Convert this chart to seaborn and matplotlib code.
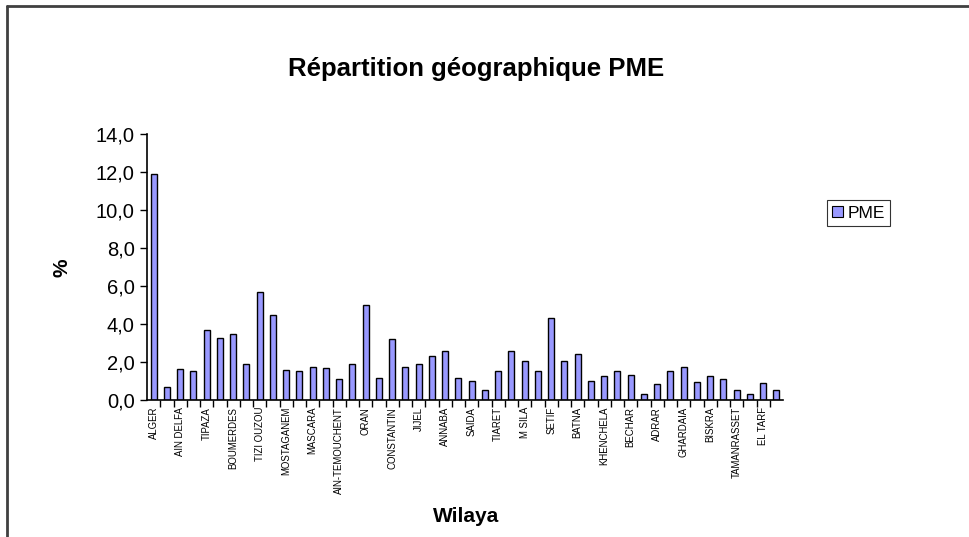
import matplotlib
matplotlib.use("Agg")
import matplotlib.pyplot as plt
from matplotlib.lines import Line2D
from matplotlib.patches import Patch
from matplotlib.ticker import FixedLocator, FuncFormatter
import seaborn as sns
import pandas as pd
import numpy as np

wilayas = ["ALGER", "BLIDA", "AIN DELFA", "MEDEA", "TIPAZA", "BOUIRA", "BOUMERDES", "CHLEF",
           "TIZI OUZOU", "BEJAIA", "MOSTAGANEM", "RELIZANE", "MASCARA", "SIDI BEL ABBES",
           "AIN-TEMOUCHENT", "TLEMCEN", "ORAN", "MILA", "CONSTANTIN", "SKIKDA", "JIJEL", "GUELMA",
           "ANNABA", "SOUK AHRAS", "SAIDA", "TISSEMSILT", "TIARET", "DJELFA", "M SILA",
           "BORDJ BOU ARRERIDJ", "SETIF", "OUM EL BOUAGHI", "BATNA", "TEBESSA", "KHENCHELA",
           "NAAMA", "BECHAR", "TINDOUF", "ADRAR", "LAGHOUAT", "GHARDAIA", "OUARGLA", "BISKRA",
           "EL OUED", "TAMANRASSET", "ILLIZI", "EL TARF", "EL BAYADH"]
pme = [11.9, 0.67, 1.64, 1.53, 3.70, 3.26, 3.45, 1.88, 5.69, 4.47, 1.58, 1.53, 1.73, 1.67,
       1.11, 1.92, 5.02, 1.16, 3.20, 1.73, 1.92, 2.29, 2.59, 1.16, 1.02, 0.51, 1.53, 2.59,
       2.04, 1.53, 4.31, 2.04, 2.43, 1.02, 1.27, 1.53, 1.32, 0.30, 0.86, 1.53, 1.73, 0.97,
       1.27, 1.11, 0.55, 0.30, 0.92, 0.55]
yticks = [0, 2, 4, 6, 8, 10, 12, 14]

df = pd.DataFrame({"Wilaya": wilayas, "PME": pme})

sns.set_theme(style="white")
plt.rcParams["font.family"] = ["Liberation Sans", "DejaVu Sans"]
plt.rcParams["text.color"] = "black"
plt.rcParams["xtick.labelcolor"] = "black"
plt.rcParams["ytick.labelcolor"] = "black"

W, H = 969, 537
fig = plt.figure(figsize=(W / 100, H / 100), dpi=100)
ax = fig.add_axes([147 / W, 1 - 400 / H, (783 - 147) / W, (400 - 134) / H])

sns.barplot(data=df, x="Wilaya", y="PME", color="#9999FF", edgecolor="black",
            linewidth=1.0, width=0.45, saturation=1, ax=ax)

ax.set_xlim(-0.5, len(wilayas) - 0.5)
ax.set_ylim(0, 14)
ax.yaxis.set_major_locator(FixedLocator(yticks))
ax.yaxis.set_major_formatter(FuncFormatter(lambda v, p: f"{v:.1f}".replace(".", ",")))
ax.tick_params(axis="y", which="major", direction="out", length=5, width=1,
               color="black", labelsize=14.5, pad=4, left=True, labelcolor="black")

idx = np.arange(0, len(wilayas), 2)
ax.set_xticks(idx)
ax.set_xticklabels([wilayas[i] for i in idx], rotation=90, fontsize=6.9, color="black")
ax.tick_params(axis="x", which="major", length=0, pad=5)
ax.xaxis.set_minor_locator(FixedLocator(np.arange(0.5, len(wilayas) - 0.5, 1)))
ax.tick_params(axis="x", which="minor", direction="out", length=5, width=1,
               color="black", bottom=True)

for s in ["top", "right"]:
    ax.spines[s].set_visible(False)
for s in ["left", "bottom"]:
    ax.spines[s].set_color("black")
    ax.spines[s].set_linewidth(1.2)

ax.set_xlabel("")
ax.set_ylabel("")
fig.text(476 / W, 1 - 69 / H, "Répartition géographique PME", ha="center", va="center",
         fontsize=18.5, fontweight="bold", color="black")
fig.text(62 / W, 1 - 268 / H, "%", ha="center", va="center", rotation=90,
         fontsize=15, fontweight="bold", color="black")
fig.text(466 / W, 1 - 517 / H, "Wilaya", ha="center", va="center",
         fontsize=15, fontweight="bold", color="black")

handle = Patch(facecolor="#9999FF", edgecolor="black", linewidth=0.8, label="PME")
leg = fig.legend(handles=[handle], loc="center left", bbox_to_anchor=(827 / W, 1 - 213 / H),
                 frameon=True, fancybox=False, fontsize=12.5, handlelength=0.6,
                 handleheight=0.6, handletextpad=0.3, borderpad=0.3, borderaxespad=0)
leg.get_frame().set_edgecolor("black")
leg.get_frame().set_linewidth(0.8)

# outer chart-area frame (top and left edges visible)
fig.add_artist(Line2D([7 / W, 1.0], [1 - 6 / H, 1 - 6 / H], transform=fig.transFigure,
                      color="#404040", linewidth=2))
fig.add_artist(Line2D([7 / W, 7 / W], [0, 1 - 6 / H], transform=fig.transFigure,
                      color="#404040", linewidth=2))

fig.savefig("out.png", dpi=100, facecolor="white")
